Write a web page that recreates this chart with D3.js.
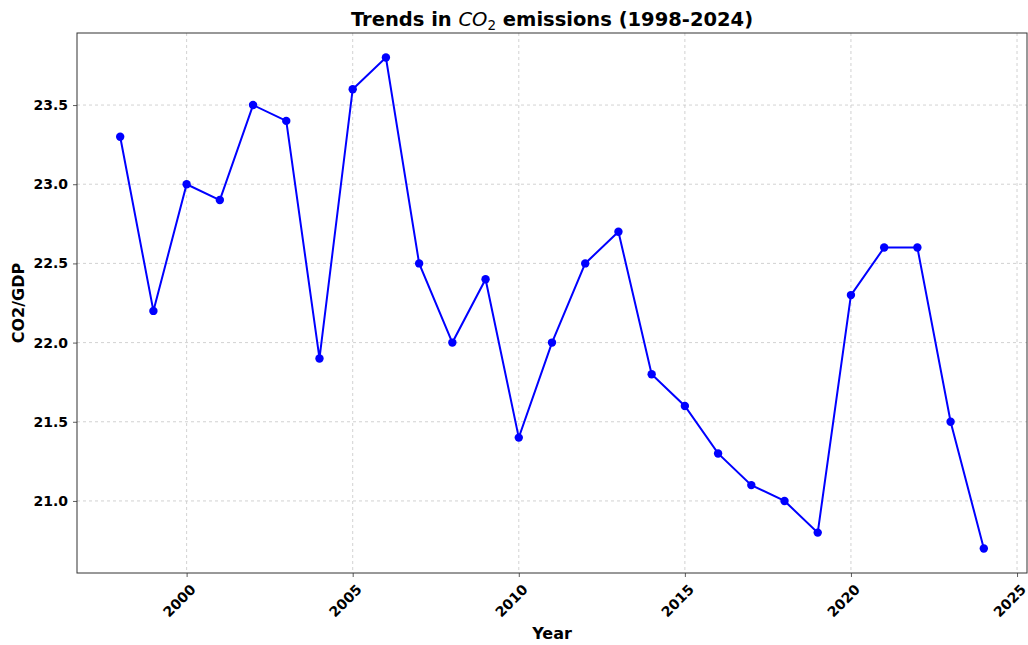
<!DOCTYPE html>
<html>
<head>
<meta charset="utf-8">
<script src="https://cdn.jsdelivr.net/npm/d3@7"></script>
<style>
  html, body { margin: 0; padding: 0; background: #fff; }
  svg { display: block; font-family: "DejaVu Sans", sans-serif; }
</style>
</head>
<body>
<svg id="chart" width="1028" height="645"></svg>
<script>
// Yearly CO2/GDP readings
const years = [1998, 1999, 2000, 2001, 2002, 2003, 2004, 2005, 2006, 2007, 2008, 2009, 2010,
               2011, 2012, 2013, 2014, 2015, 2016, 2017, 2018, 2019, 2020, 2021, 2022, 2023, 2024];
const co2gdp = [23.3, 22.2, 23.0, 22.9, 23.5, 23.4, 21.9, 23.6, 23.8, 22.5, 22.0, 22.4, 21.4,
                22.0, 22.5, 22.7, 21.8, 21.6, 21.3, 21.1, 21.0, 20.8, 22.3, 22.6, 22.6, 21.5, 20.7];
const xTicks = [2000, 2005, 2010, 2015, 2020, 2025];
const yTicks = [21.0, 21.5, 22.0, 22.5, 23.0, 23.5];

const svg = d3.select("#chart");
const plot = { left: 77, right: 1027, top: 33, bottom: 573 };
const FONT = "'DejaVu Sans', sans-serif";

// 5% padding around the data extent on both axes
const xExt = d3.extent(years), yExt = d3.extent(co2gdp);
const xPad = (xExt[1] - xExt[0]) * 0.05, yPad = (yExt[1] - yExt[0]) * 0.05;
const x = d3.scaleLinear().domain([xExt[0] - xPad, xExt[1] + xPad]).range([plot.left, plot.right]);
const y = d3.scaleLinear().domain([yExt[0] - yPad, yExt[1] + yPad]).range([plot.bottom, plot.top]);

// Grid
const grid = svg.append("g").attr("stroke", "#b0b0b0").attr("stroke-width", 0.8)
  .attr("stroke-dasharray", "3,3").attr("opacity", 0.7);
grid.selectAll(".gx").data(xTicks).join("line")
  .attr("x1", d => x(d)).attr("x2", d => x(d)).attr("y1", plot.top).attr("y2", plot.bottom);
grid.selectAll(".gy").data(yTicks).join("line")
  .attr("y1", d => y(d)).attr("y2", d => y(d)).attr("x1", plot.left).attr("x2", plot.right);

// Axes
const xAxis = svg.append("g").attr("transform", `translate(0,${plot.bottom})`)
  .call(d3.axisBottom(x).tickValues(xTicks).tickFormat(d3.format("d")).tickSize(4).tickPadding(5));
xAxis.attr("font-size", null).attr("font-family", null);
xAxis.select(".domain").remove();
xAxis.selectAll("line").attr("stroke", "#333").attr("stroke-width", 0.8);
xAxis.selectAll("text")
  .style("font-size", "14px").style("font-weight", "bold").style("font-family", FONT)
  .attr("fill", "#000")
  .attr("text-anchor", "end").attr("dy", "0.35em")
  .attr("transform", "translate(6,14) rotate(-45)")
  .attr("y", 0).attr("x", 0);

const yAxis = svg.append("g").attr("transform", `translate(${plot.left},0)`)
  .call(d3.axisLeft(y).tickValues(yTicks).tickFormat(d3.format(".1f")).tickSize(4).tickPadding(5));
yAxis.attr("font-size", null).attr("font-family", null);
yAxis.select(".domain").remove();
yAxis.selectAll("line").attr("stroke", "#333").attr("stroke-width", 0.8);
yAxis.selectAll("text")
  .style("font-size", "14px").style("font-weight", "bold").style("font-family", FONT)
  .attr("fill", "#000");

// Frame
svg.append("rect").attr("x", plot.left).attr("y", plot.top)
  .attr("width", plot.right - plot.left).attr("height", plot.bottom - plot.top)
  .attr("fill", "none").attr("stroke", "#333").attr("stroke-width", 1);

// Line and markers
const line = d3.line().x((d, i) => x(years[i])).y(d => y(d));
svg.append("path").datum(co2gdp).attr("d", line)
  .attr("fill", "none").attr("stroke", "#0000ff").attr("stroke-width", 2);
svg.selectAll(".pt").data(co2gdp).join("circle")
  .attr("cx", (d, i) => x(years[i])).attr("cy", d => y(d)).attr("r", 4.2).attr("fill", "#0000ff");

// Title with italic CO2 and subscript
const title = svg.append("text").attr("x", (plot.left + plot.right) / 2).attr("y", 26)
  .attr("text-anchor", "middle").style("font-size", "19.5px").style("font-weight", "bold")
  .style("font-family", FONT).attr("fill", "#000");
title.append("tspan").text("Trends in ");
title.append("tspan").style("font-style", "italic").style("font-weight", "normal").text("CO");
title.append("tspan").style("font-weight", "normal").style("font-size", "13.5px").attr("dy", 4).text("2");
title.append("tspan").attr("dy", -4).text(" emissions (1998-2024)");

// Axis labels
svg.append("text").attr("x", (plot.left + plot.right) / 2).attr("y", 639)
  .attr("text-anchor", "middle").style("font-size", "16px").style("font-weight", "bold")
  .style("font-family", FONT).text("Year");
svg.append("text").attr("transform", `translate(24,${(plot.top + plot.bottom) / 2}) rotate(-90)`)
  .attr("text-anchor", "middle").style("font-size", "16px").style("font-weight", "bold")
  .style("font-family", FONT).text("CO2/GDP");
</script>
</body>
</html>
